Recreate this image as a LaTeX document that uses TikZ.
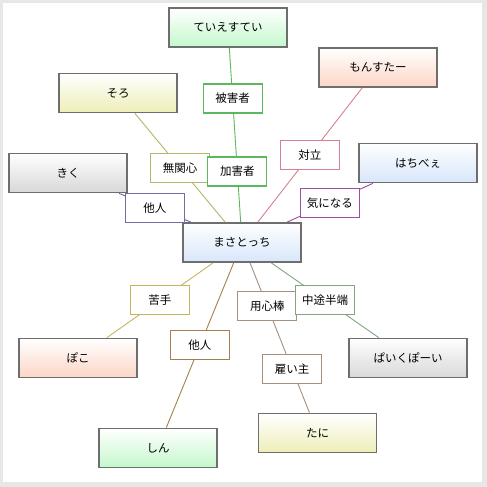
\documentclass[tikz,border=0pt]{standalone}
\usepackage{fontspec}
\newfontfamily\jpfont{Noto Sans CJK JP}
\usetikzlibrary{positioning}

\definecolor{framegray}{HTML}{E6E8E6}
\definecolor{boxgray}{HTML}{6E6E6E}
% box fills (bottom of gradient)
\definecolor{fBlue}{HTML}{D8E6FA}
\definecolor{fGreen}{HTML}{C4F8CC}
\definecolor{fYellow}{HTML}{EEEEB8}
\definecolor{fGray}{HTML}{D8D8D8}
\definecolor{fPeach}{HTML}{FCD6C6}
% relation colours
\definecolor{eTeie}{HTML}{5DB85D}
\definecolor{eSoro}{HTML}{B5B56E}
\definecolor{eKiku}{HTML}{6E6EA5}
\definecolor{eMonsu}{HTML}{D98090}
\definecolor{eHachi}{HTML}{A04CA0}
\definecolor{ePoko}{HTML}{C8B55E}
\definecolor{eShin}{HTML}{A5804C}
\definecolor{eTani}{HTML}{A59080}
\definecolor{ePaiku}{HTML}{80A580}

\begin{document}
\begin{tikzpicture}[
    x=1pt, y=-1pt,
    node font=\jpfont\fontsize{11.5}{13}\selectfont,
    person box/.style={rectangle, draw=boxgray, line width=1.8pt, inner sep=0pt,
        minimum width=118pt, minimum height=39pt, top color=white, bottom color=#1},
    rel label/.style={rectangle, draw=#1, fill=white, line width=1.2pt, inner sep=0pt,
        minimum width=59pt, minimum height=29pt},
    rel line/.style={draw=#1, line width=0.9pt},
]

% Frame
\useasboundingbox (0,0) rectangle (487,487);
\fill[framegray] (0,0) rectangle (487,487);
\fill[white] (3,3) rectangle (482,482);

% People
\node[person box=fBlue] (masa) at (242,242.5) {まさとっち};
\node[person box=fGreen] (teie) at (228,27.5) {ていえすてい};
\node[person box=fYellow] (soro) at (118,93) {そろ};
\node[person box=fGray] (kiku) at (68,173) {きく};
\node[person box=fPeach] (monsu) at (378,67.5) {もんすたー};
\node[person box=fBlue] (hachi) at (418,163) {はちべぇ};
\node[person box=fPeach] (poko) at (78,358) {ぽこ};
\node[person box=fGreen] (shin) at (158,448) {しん};
\node[person box=fYellow] (tani) at (317.5,433) {たに};
\node[person box=fGray] (paiku) at (408,358) {ぱいくぽーい};

% Relations
\draw[rel line=eSoro] (masa) -- node[rel label=eSoro] (lMukan) {無関心} (soro);
\draw[rel line=eTeie] (masa) -- node[rel label=eTeie, pos=0.29] (lKagai) {加害者}
    node[rel label=eTeie, pos=0.71] (lHigai) {被害者} (teie);
\draw[rel line=eKiku] (masa) -- node[rel label=eKiku] (lTanin1) {他人} (kiku);
\draw[rel line=eMonsu] (masa) -- node[rel label=eMonsu] (lTairitsu) {対立} (monsu);
\draw[rel line=eHachi] (masa) -- node[rel label=eHachi] (lKini) {気になる} (hachi);
\draw[rel line=ePoko] (masa) -- node[rel label=ePoko] (lNigate) {苦手} (poko);
\draw[rel line=eShin] (masa) -- node[rel label=eShin] (lTanin2) {他人} (shin);
\draw[rel line=eTani] (masa) -- node[rel label=eTani, pos=0.29] (lYojin) {用心棒}
    node[rel label=eTani, pos=0.71] (lYatoi) {雇い主} (tani);
\draw[rel line=ePaiku] (masa) -- node[rel label=ePaiku] (lChuto) {中途半端} (paiku);

\end{tikzpicture}
\end{document}
